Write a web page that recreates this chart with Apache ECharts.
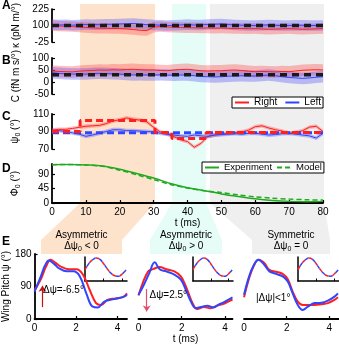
<!DOCTYPE html>
<html>
<head>
<meta charset="utf-8">
<script src="https://cdn.jsdelivr.net/npm/echarts@6/dist/echarts.min.js"></script>
<style>
html, body { margin: 0; padding: 0; background: #fff; }
#chart { width: 339px; height: 347px; }
</style>
</head>
<body>
<div id="chart"></div>
<script>
// ---- panels A-C: time (ms) and traces ----
const tTop = [0,2,4,6,8,10,12,14,16,18,20,22,24,26,28,30,32,34,36,38,40,42,44,46,48,50,52,54,56,58,60,62,64,66,68,70,72,74,76,78,80];
const kappaR = [100,97,94,92,89,86,82,80,79,78,77,74,70,64,62,88,92,89,87,85,84,83,81,82,80,81,79,77,78,76,77,74,72,73,75,77,74,72,73,75,77];
const kappaL = [107,104,106,103,105,108,106,107,109,110,112,114,116,112,107,105,103,100,102,105,107,104,105,108,110,112,108,105,103,101,100,103,105,102,100,100,103,102,100,101,100];
const cR = [46,44,43,42,45,47,48,50,49,51,50,52,53,51,50,50,48,47,50,52,53,50,47,46,47,47,49,50,48,45,43,44,43,42,44,43,46,49,50,51,50];
const cL = [39,36,34,33,33,33,35,36,35,34,33,31,29,30,29,29,30,29,28,29,29,26,23,22,21,22,24,25,26,25,25,27,29,26,22,19,17,15,17,20,22];
const psiR = [91.5,92.5,92.5,93.5,94.7,96,96.5,97,99,102,103.5,105.5,104,103,101,94.7,89.5,87,84,80.5,78.5,72,76.5,84.3,86,87,88,88.5,89.5,91.5,95.5,96.5,94,92,90.5,88,89,91,95,96,90];
const psiL = [91,91,90,88.5,87,84.5,86,88,90,92,92,91,91,90.5,90,89.5,88,87,86,85,84.5,86,85,84.5,86,86.5,87,87.5,87,88,88,87,86,86.5,87.5,88,87,86,85,82.5,88];
const kappaSd = 40, cSd = 24, psiSd = 2.2;

// model values
const modelT = [0, 80];
const kappaModel = [100, 100];
const cModel = [30, 30];
const psiRModelT = [0, 8.3, 30.4, 35.4, 45.5, 80];
const psiRModel = [90, 102.5, 89, 82, 89, 89];
const psiLModel = [88.5, 88.5];

// ---- panel D ----
const phiT = [0,5,10,15,20,25,30,35,40,45,50,55,60,65,70,75,80];
const phiExp = [118,118.5,117,114,104,91,77,60,47,38,28,20,13,8,5,4,5];
const phiModel = [118,118.5,117,113,101,87,72,57,46,38,32,25,19,15,12,10,9];

// shaded time windows (ms)
const shadeT = [[8.3, 30.4], [35.4, 45.5], [46.6, 80.3]];

// ---- panel E: wing pitch over one stroke ----
const e1RedT = [0,0.3,0.55,0.77,1.0,1.24,1.63,2.02,2.34,2.65,2.96,3.2,3.51,3.9,4.3,4.45];
const e1RedPsi = [80,110,145,164,156,146,138,138,122,81,44,39,53,57,62,71];
const e1BlueT = [0,0.3,0.5,0.69,0.95,1.16,1.55,1.87,2.18,2.49,2.8,3.04,3.36,3.83,4.22,4.45];
const e1BluePsi = [76,118,148,162,152,141,132,132,118,71,34,32,48,55,60,67];
const e2RedT = [0,0.2,0.45,0.67,0.98,1.28,1.66,1.96,2.22,2.5,2.72,3.03,3.33,3.63,3.94,4.17,4.35];
const e2RedPsi = [65,100,132,138,144,138,132,118,86,44,28,33,30,37,42,49,54];
const e2BlueT = [0,0.25,0.5,0.75,0.98,1.28,1.66,1.96,2.19,2.42,2.65,2.88,3.18,3.48,3.71,3.94,4.17,4.35];
const e2BluePsi = [67,95,127,157,138,132,123,109,81,49,30,33,37,32,40,46,54,60];
const e3T = [0,0.24,0.45,0.68,0.95,1.19,1.5,1.81,2.05,2.28,2.52,2.75,2.99,3.3,3.62,3.93,4.24,4.4];
const e3RedPsi = [60,113,146,164,155,136,131,125,110,76,48,39,39,39,41,44,53,60];
const e3BluePsi = [67,118,148,164,150,132,125,118,104,71,39,25,34,44,45,51,62,71];
// inset stroke angle (normalised)
const insetT = [0,0.2,0.4,0.6,0.8,1.0,1.2,1.4,1.6,1.8,2.0,2.2];
const insetPhi = [0.47,0.72,0.88,0.96,0.9,0.72,0.5,0.32,0.22,0.2,0.3,0.46];
// arrows: [t, from, to]
const arrowE1 = [0.38, 33, 92];
const arrowE2 = [0.38, 83, 21];

const FONT = 'Liberation Sans, Arial, Helvetica, sans-serif';
const RED = '#ff1f1f', BLUE = '#2f45ff', GREEN = '#1faa1f';
const NRM = { fontSize: 10, fontFamily: FONT, color: '#000' };
const SUB = { fontSize: 7, fontFamily: FONT, color: '#000', padding: [6, 0, 0, 0] };

const chart = echarts.init(document.getElementById('chart'));

const pairs = (xs, ys) => xs.map((x, i) => [x, ys[i]]);

function line(idx, xs, ys, color, width, extra) {
  return Object.assign({
    type: 'line', xAxisIndex: idx, yAxisIndex: idx,
    data: pairs(xs, ys), symbol: 'none', z: 3,
    lineStyle: { color: color, width: width },
    itemStyle: { color: color }
  }, extra || {});
}

function band(idx, vals, sd, color) {
  const pts = tTop.map((t, i) => [t, vals[i] - sd, vals[i] + sd]);
  return {
    type: 'custom', xAxisIndex: idx, yAxisIndex: idx, silent: true, z: 1,
    data: pts, encode: { x: 0, y: [1, 2] },
    renderItem: (params, api) => {
      if (params.dataIndex !== 0) return null;
      const up = pts.map(p => api.coord([p[0], p[2]]));
      const lo = pts.map(p => api.coord([p[0], p[1]])).reverse();
      return { type: 'polygon', shape: { points: up.concat(lo) }, style: { fill: color } };
    }
  };
}

const axLine = { show: true, onZero: false, lineStyle: { color: '#000', width: 1.8 } };
const tick = vals => ({ show: true, inside: true, length: 3, lineStyle: { color: '#000', width: 1.2 }, customValues: vals });
const label = vals => ({ show: true, fontSize: 10, color: '#000', fontFamily: FONT, margin: 3, customValues: vals });
const nameStyle = { fontSize: 10, color: '#000', fontFamily: FONT, rich: { n: NRM, s: SUB } };

const grids = [
  { left: 52, top: 6, width: 271, height: 36 },
  { left: 52, top: 58, width: 271, height: 36 },
  { left: 52, top: 114, width: 271, height: 35 },
  { left: 52, top: 164, width: 271, height: 39 },
  { left: 32, top: 254, width: 95, height: 65 },
  { left: 138.5, top: 254, width: 94, height: 65 },
  { left: 244, top: 254, width: 95, height: 65 },
  { left: 85, top: 257, width: 42, height: 24 },
  { left: 193, top: 257, width: 40, height: 24 },
  { left: 298, top: 257, width: 41, height: 24 }
];

const xAxes = [
  { gridIndex: 0, type: 'value', min: 0, max: 80, show: false },
  { gridIndex: 1, type: 'value', min: 0, max: 80, show: false },
  { gridIndex: 2, type: 'value', min: 0, max: 80, show: false },
  { gridIndex: 3, type: 'value', min: 0, max: 80, interval: 10, axisLine: axLine,
    axisTick: tick([10,20,30,40,50,60,70,80]), axisLabel: Object.assign(label(), { margin: 4 }),
    splitLine: { show: false }, name: 't (ms)', nameLocation: 'middle', nameGap: 15, nameTextStyle: nameStyle },
  { gridIndex: 4, type: 'value', min: 0, max: 4.45, axisLine: axLine, axisTick: tick([2, 4]),
    axisLabel: Object.assign(label([0, 2, 4]), { margin: 4 }), splitLine: { show: false } },
  { gridIndex: 5, type: 'value', min: 0, max: 4.35, axisLine: axLine, axisTick: tick([2, 4]),
    axisLabel: Object.assign(label([0, 2, 4]), { margin: 4 }), splitLine: { show: false },
    name: 't (ms)', nameLocation: 'middle', nameGap: 15, nameTextStyle: nameStyle },
  { gridIndex: 6, type: 'value', min: 0, max: 4.45, axisLine: axLine, axisTick: tick([2, 4]),
    axisLabel: Object.assign(label([0, 2, 4]), { margin: 4 }), splitLine: { show: false } }
];
for (let g = 7; g <= 9; g++) {
  xAxes.push({ gridIndex: g, type: 'value', min: 0, max: 2.25,
    axisLine: { show: true, lineStyle: { color: '#000', width: 1.5 } },
    axisTick: { show: true, inside: true, length: 2.5, customValues: [1, 2], lineStyle: { color: '#000', width: 1 } },
    axisLabel: { show: false }, splitLine: { show: false } });
}

const yAxes = [
  { gridIndex: 0, type: 'value', min: -25, max: 225, axisLine: axLine, axisTick: tick([-25, 100, 225]),
    axisLabel: label([-25, 100, 225]), splitLine: { show: false },
    name: 'κ (pN m/°)', nameLocation: 'middle', nameGap: 28, nameTextStyle: nameStyle },
  { gridIndex: 1, type: 'value', min: -50, max: 100, interval: 50, axisLine: axLine, axisTick: tick(),
    axisLabel: label(), splitLine: { show: false },
    name: 'C (fN m s/°)', nameLocation: 'middle', nameGap: 28, nameTextStyle: nameStyle },
  { gridIndex: 2, type: 'value', min: 70, max: 110, axisLine: axLine, axisTick: tick([70, 90, 110]),
    axisLabel: label([70, 90, 110]), splitLine: { show: false },
    name: '{n|ψ}{s|0}{n| (°)}', nameLocation: 'middle', nameGap: 30, nameTextStyle: nameStyle },
  { gridIndex: 3, type: 'value', min: 0, max: 120, axisLine: axLine, axisTick: tick([0, 45, 90, 120]),
    axisLabel: label([0, 45, 90, 120]), splitLine: { show: false },
    name: '{n|Φ}{s|0}{n| (°)}', nameLocation: 'middle', nameGap: 30, nameTextStyle: nameStyle },
  { gridIndex: 4, type: 'value', min: 0, max: 180, interval: 90, axisLine: axLine, axisTick: tick(),
    axisLabel: label(), splitLine: { show: false },
    name: 'Wing Pitch ψ (°)', nameLocation: 'middle', nameGap: 14, nameTextStyle: nameStyle },
  { gridIndex: 5, type: 'value', min: 0, max: 180, show: false },
  { gridIndex: 6, type: 'value', min: 0, max: 180, show: false }
];
for (let g = 7; g <= 9; g++) {
  yAxes.push({ gridIndex: g, type: 'value', min: 0, max: 1,
    axisLine: { show: true, lineStyle: { color: '#000', width: 1.5 } },
    axisTick: { show: false }, axisLabel: { show: false }, splitLine: { show: false } });
}

const bandR = 'rgba(255,60,60,0.33)', bandB = 'rgba(70,70,255,0.33)';
const dashBlack = { color: '#1a1a1a', width: 3.5, type: [7, 5] };

const series = [
  band(0, kappaR, kappaSd, bandR), band(0, kappaL, kappaSd, bandB),
  band(1, cR, cSd, bandR), band(1, cL, cSd, bandB),
  band(2, psiR, psiSd, bandR), band(2, psiL, psiSd, bandB),
  line(0, tTop, kappaR, RED, 1, { name: 'Right' }),
  line(0, tTop, kappaL, BLUE, 1, { name: 'Left' }),
  line(1, tTop, cR, RED, 1, { name: 'Right' }),
  line(1, tTop, cL, BLUE, 1, { name: 'Left' }),
  line(2, tTop, psiR, RED, 1, { name: 'Right' }),
  line(2, tTop, psiL, BLUE, 1, { name: 'Left' }),
  line(0, modelT, kappaModel, '#1a1a1a', 3.5, { name: 'kModel', z: 4, lineStyle: dashBlack }),
  line(1, modelT, cModel, '#1a1a1a', 3.5, { name: 'cModel', z: 4, lineStyle: dashBlack }),
  line(2, modelT, psiLModel, BLUE, 3, { name: 'lModel', z: 4, lineStyle: { color: BLUE, width: 3, type: [7, 4] } }),
  line(2, psiRModelT, psiRModel, RED, 3, { name: 'rModel', z: 5, step: 'end', lineStyle: { color: RED, width: 3, type: [7, 4] } }),
  line(3, phiT, phiExp, GREEN, 1.5, { name: 'Experiment', smooth: 0.3 }),
  line(3, phiT, phiModel, GREEN, 1.5, { name: 'Model', smooth: 0.3, lineStyle: { color: GREEN, width: 1.5, type: [5, 3] } }),
  line(4, e1RedT, e1RedPsi, RED, 2, { smooth: 0.4 }),
  line(4, e1BlueT, e1BluePsi, BLUE, 2, { smooth: 0.4,
    markLine: { silent: true, symbol: ['none', 'arrow'], symbolSize: 6, label: { show: false },
      lineStyle: { color: '#c81010', width: 1.2, type: 'solid' },
      data: [[{ coord: [arrowE1[0], arrowE1[1]] }, { coord: [arrowE1[0], arrowE1[2]] }]] } }),
  line(5, e2RedT, e2RedPsi, RED, 2, { smooth: 0.4 }),
  line(5, e2BlueT, e2BluePsi, BLUE, 2, { smooth: 0.4,
    markLine: { silent: true, symbol: ['none', 'arrow'], symbolSize: 6, label: { show: false },
      lineStyle: { color: '#e0506a', width: 1.2, type: 'solid' },
      data: [[{ coord: [arrowE2[0], arrowE2[1]] }, { coord: [arrowE2[0], arrowE2[2]] }]] } }),
  line(6, e3T, e3RedPsi, RED, 2, { smooth: 0.4 }),
  line(6, e3T, e3BluePsi, BLUE, 2, { smooth: 0.4 })
];
for (let g = 7; g <= 9; g++) {
  series.push(line(g, insetT, insetPhi, RED, 1.5, { smooth: 0.4, lineStyle: { color: RED, width: 1.5, type: [4, 4] } }));
  series.push(line(g, insetT, insetPhi, BLUE, 1.5, { smooth: 0.4, lineStyle: { color: BLUE, width: 1.5, type: [4, 4], dashOffset: 4 } }));
}

const legendBase = {
  orient: 'horizontal', itemWidth: 14, itemHeight: 8, padding: [0, 2],
  borderColor: '#000', borderWidth: 1, borderRadius: 0, backgroundColor: '#fff',
  itemStyle: { opacity: 0 },
  selectedMode: false, textStyle: { fontSize: 10, fontFamily: FONT, color: '#000', lineHeight: 11 }
};

chart.setOption({
  animation: false,
  textStyle: { fontFamily: FONT },
  grid: grids,
  xAxis: xAxes,
  yAxis: yAxes,
  legend: [
    Object.assign({}, legendBase, { data: ['Right', 'Left'], left: 232, top: 97, itemGap: 7 }),
    Object.assign({}, legendBase, { data: ['Experiment', 'Model'], left: 202, top: 162, itemGap: 4,
      textStyle: { fontSize: 9.5, fontFamily: FONT, color: '#000', lineHeight: 11 } })
  ],
  series: series
});

// background windows and annotations
const px = t => chart.convertToPixel({ xAxisIndex: 3 }, t);
const shadeColors = ['#fde3cc', '#e6fdf7', '#efefef'];
const boxX = [[41, 122], [150, 222], [252, 330]];
const graphics = shadeT.map((r, i) => ({
  type: 'polygon', z: -10, silent: true,
  shape: { points: [[px(r[0]), 4], [px(r[1]), 4], [px(r[1]), 203], [boxX[i][1], 240], [boxX[i][1], 254],
    [boxX[i][0], 254], [boxX[i][0], 240], [px(r[0]), 203]] },
  style: { fill: shadeColors[i] }
}));

const txt = (x, y, text, opts) => ({
  type: 'text', x: x, y: y, z: 10, silent: true,
  style: Object.assign({ text: text, fontSize: 10, fontFamily: FONT, fill: '#000', align: 'left', verticalAlign: 'middle',
    rich: { n: NRM, s: SUB } }, opts || {})
});

[['A', 6], ['B', 61], ['C', 117], ['D', 169], ['E', 242]].forEach(p => {
  graphics.push(txt(2, p[1], p[0], { fontSize: 12, fontWeight: 'bold' }));
});
const titles = [['Asymmetric', '{n|Δψ}{s|0}{n| < 0}'], ['Asymmetric', '{n|Δψ}{s|0}{n| > 0}'], ['Symmetric', '{n|Δψ}{s|0}{n| = 0}']];
titles.forEach((t, i) => {
  const cx = (boxX[i][0] + boxX[i][1]) / 2;
  graphics.push(txt(cx, 235, t[0], { align: 'center' }));
  graphics.push(txt(cx, 246.5, t[1], { align: 'center' }));
});
graphics.push(txt(43, 290, 'Δψ=-6.5°'));
graphics.push(txt(149.5, 295, 'Δψ=2.5°'));
graphics.push(txt(256, 298, '|Δψ|<1°'));

chart.setOption({ graphic: graphics });
</script>
</body>
</html>
